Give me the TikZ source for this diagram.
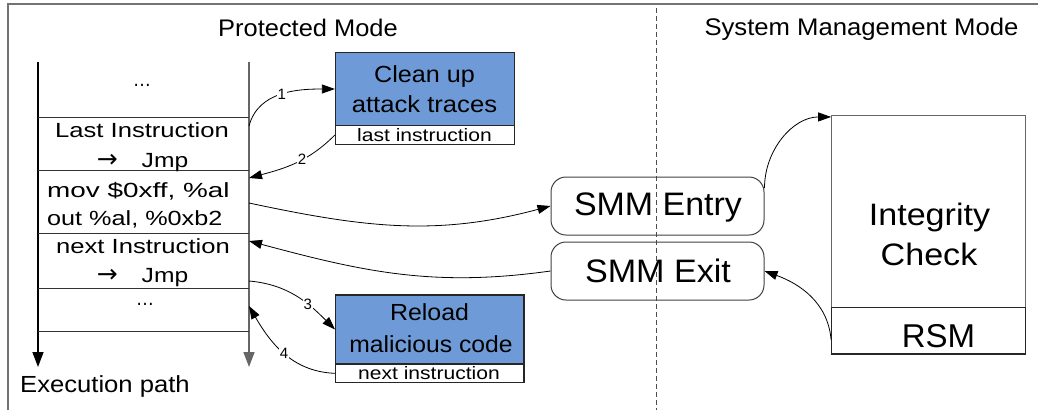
\documentclass[tikz,border=0pt]{standalone}
\usepackage{fontspec}
\usepackage{graphicx}
\setmainfont{Liberation Sans}
\newfontfamily\symfont{DejaVu Sans}
\usetikzlibrary{arrows.meta}
\definecolor{taskblue}{RGB}{110,155,215}
\newcommand{\hstretch}[2]{\scalebox{#1}[1]{#2}}
\newcommand{\fs}[1]{\fontsize{#1}{#1}\selectfont}

\begin{document}
\begin{tikzpicture}[x=1pt,y=1pt,
  txt/.style={inner sep=0pt, anchor=base},
  title/.style={txt, font=\fs{24}},
  cell/.style={txt, font=\fs{20.5}},
  boxtxt/.style={txt, font=\fs{23.3}},
  tagtxt/.style={txt, font=\fs{18}},
  smmtxt/.style={txt, font=\fs{32.5}},
  num/.style={font=\fs{15}, fill=white, inner sep=0.6pt},
  flow/.style={-{Triangle[length=13pt,width=9pt]}, line width=0.8pt, black},
  task/.style={draw=black!85, line width=1.2pt, fill=taskblue, inner sep=0pt},
  tagbox/.style={draw=black!85, line width=1.2pt, fill=white, inner sep=0pt},
  mode/.style={draw=black!75, line width=1pt, rounded corners=15pt, inner sep=0pt,
               minimum width=213pt, minimum height=58pt},
  column/.style={line width=1.5pt, -{Triangle[length=15pt,width=11pt]}},
]
\useasboundingbox (0,0) rectangle (1038,-410);

% outer frame and mode divider
\draw[black!55, line width=1.8pt] (8,-410) -- (8,-4) -- (1038,-4);
\draw[black!70, line width=0.8pt, dash pattern=on 5pt off 3pt] (656,-8) -- (656,-410);

% mode titles
\node[title] (pmtitle) at (308,-36) {\hstretch{1.06}{Protected Mode}};
\node[title] (smmtitle) at (861.5,-35) {\hstretch{1.07}{System Management Mode}};

% execution path column
\draw[column, black] (38,-62) -- (38,-367);
\draw[column, black!60] (249,-62) -- (249,-367);
\foreach \y in {117,170.5,233,288,331.5}
  \draw[black!80, line width=1pt] (38,-\y) -- (249,-\y);

\node[cell] (dotsA) at (142,-86) {\hstretch{0.9}{…}};
\node[cell] (lastins) at (142,-137) {\hstretch{1.25}{Last Instruction}};
\node[cell] (jmpAtxt) at (142.5,-167) {{\symfont\fontsize{25}{25}\selectfont →}\hspace{24pt}\hstretch{1.2}{Jmp}};
\node[cell, anchor=base west] (movtxt) at (47,-197) {\hstretch{1.36}{mov \$0xff, \%al}};
\node[cell, anchor=base west] (outtxt) at (47,-225) {\hstretch{1.23}{out \%al, \%0xb2}};
\node[cell] (nextins) at (143,-253) {\hstretch{1.25}{next Instruction}};
\node[cell] (jmpBtxt) at (142.5,-282) {{\symfont\fontsize{25}{25}\selectfont →}\hspace{24pt}\hstretch{1.2}{Jmp}};
\node[cell] (dotsB) at (145,-305) {\hstretch{0.9}{…}};
\node[boxtxt, anchor=base west] (execpath) at (20,-392) {\hstretch{1.1}{Execution path}};

% points on the execution path
\coordinate (jmpA) at (249,-126);
\coordinate (retA) at (249,-178);
\coordinate (trap) at (249,-203);
\coordinate (resume) at (249,-241);
\coordinate (jmpB) at (249,-281);
\coordinate (retB) at (249,-306);

% cleanup handler
\node[task, minimum width=179pt, minimum height=73.5pt] (clean) at (425,-89) {};
\node[tagbox, minimum width=179pt, minimum height=18.5pt] (cleanret) at (425,-135) {};
\node[boxtxt] (cleanA) at (424.5,-82) {\hstretch{1.08}{Clean up}};
\node[boxtxt] (cleanB) at (424.5,-112) {\hstretch{1.10}{attack traces}};
\node[tagtxt] (cleanC) at (424.5,-141) {\hstretch{1.17}{last instruction}};

% reload handler
\node[task, minimum width=188.3pt, minimum height=69pt] (reload) at (429.8,-329.5) {};
\node[tagbox, minimum width=188.3pt, minimum height=18.7pt] (reloadret) at (429.8,-373.3) {};
\node[boxtxt] (reloadA) at (429.5,-320) {\hstretch{1.07}{Reload}};
\node[boxtxt] (reloadB) at (431,-352) {\hstretch{1.06}{malicious code}};
\node[tagtxt] (reloadC) at (429,-379) {\hstretch{1.17}{next instruction}};

% SMM transitions
\node[mode] (entry) at (657.5,-206) {};
\node[smmtxt] (entrytxt) at (658,-215) {\hstretch{1.045}{SMM Entry}};
\node[mode] (exit) at (657.5,-271) {};
\node[smmtxt] (exittxt) at (658,-282) {\hstretch{1.05}{SMM Exit}};

% SMM handler
\node[draw=black!60, line width=1.2pt, minimum width=194pt, minimum height=238.5pt, inner sep=0pt] (integ) at (928.7,-234.8) {};
\node[draw=black!85, line width=1.2pt, minimum width=194pt, minimum height=46.7pt, inner sep=0pt] (rsm) at (928.7,-330.7) {};
\node[txt, font=\fs{31}] (integA) at (929.5,-225) {\hstretch{1.1}{Integrity}};
\node[txt, font=\fs{31}] (integB) at (929,-265) {\hstretch{1.1}{Check}};
\node[txt, font=\fs{33}] (rsmtxt) at (938.5,-347) {RSM};

% control flow
\draw[flow] (jmpA) to[out=75,in=180] node[num,pos=0.5]{1} (clean.west);
\draw[flow] (cleanret.west) to[out=225,in=15] node[num,pos=0.42]{2} (retA);
\draw[flow] (trap) to[out=-12,in=195] (entry.west);
\draw[flow] (exit.west) to[out=188,in=-15] (resume);
\draw[flow] (jmpB) to[out=-5,in=135] node[num,pos=0.65]{3} (reload.west);
\draw[flow] (reloadret.west) to[out=178,in=-60] node[num,pos=0.5]{4} (retB);
\draw[flow] ([yshift=18pt]entry.east) to[out=90,in=180] ([yshift=-2pt]integ.north west);
\draw[flow] ([yshift=-9pt]rsm.west) to[out=95,in=-20] (exit.east);
\end{tikzpicture}
\end{document}
